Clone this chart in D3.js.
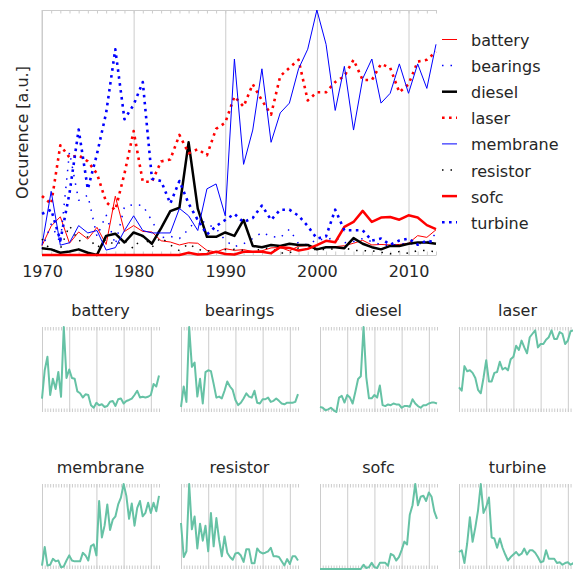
<!DOCTYPE html>
<html>
<head>
<meta charset="utf-8">
<script src="https://cdn.jsdelivr.net/npm/d3@7"></script>
<style>
  body { margin: 0; background: #fff; }
  svg text { font-family: "DejaVu Sans", sans-serif; fill: #262626; }
</style>
</head>
<body>
<svg id="chart" width="573" height="572"></svg>
<script>

// years on the x axis
var years = [1970, 1971, 1972, 1973, 1974, 1975, 1976, 1977, 1978, 1979,
  1980, 1981, 1982, 1983, 1984, 1985, 1986, 1987, 1988, 1989,
  1990, 1991, 1992, 1993, 1994, 1995, 1996, 1997, 1998, 1999,
  2000, 2001, 2002, 2003, 2004, 2005, 2006, 2007, 2008, 2009,
  2010, 2011, 2012, 2013];

var names = ["battery", "bearings", "diesel", "laser", "membrane", "resistor", "sofc", "turbine"];

// occurence per year
var battery = [0.038, 0.118, 0.156, 0.048, 0.094, 0.065, 0.113, 0.043, 0.240, 0.096,
  0.120, 0.096, 0.094, 0.058, 0.053, 0.041, 0.050, 0.048, 0.019, 0.012,
  0.026, 0.019, 0.022, 0.014, 0.017, 0.029, 0.031, 0.017, 0.036, 0.038,
  0.024, 0.031, 0.034, 0.038, 0.048, 0.060, 0.041, 0.043, 0.041, 0.043,
  0.048, 0.079, 0.072, 0.103];
var bearings = [0.025, 0.126, 0.050, 0.420, 0.223, 0.244, 0.076, 0.164, 0.042, 0.197,
  0.206, 0.202, 0.139, 0.071, 0.076, 0.067, 0.105, 0.151, 0.126, 0.109,
  0.059, 0.034, 0.046, 0.067, 0.092, 0.076, 0.071, 0.105, 0.046, 0.042,
  0.063, 0.063, 0.071, 0.050, 0.055, 0.067, 0.055, 0.042, 0.038, 0.046,
  0.046, 0.046, 0.050, 0.088];
var diesel = [0.028, 0.023, 0.009, 0.014, 0.023, 0.009, 0.000, 0.078, 0.087, 0.051,
  0.092, 0.078, 0.046, 0.110, 0.179, 0.193, 0.460, 0.189, 0.074, 0.074,
  0.092, 0.078, 0.143, 0.037, 0.032, 0.041, 0.037, 0.046, 0.041, 0.041,
  0.023, 0.032, 0.032, 0.028, 0.069, 0.046, 0.032, 0.023, 0.037, 0.037,
  0.046, 0.051, 0.051, 0.046];
var laser = [0.241, 0.208, 0.448, 0.398, 0.407, 0.382, 0.332, 0.216, 0.183, 0.332,
  0.506, 0.299, 0.299, 0.382, 0.390, 0.490, 0.415, 0.432, 0.407, 0.515,
  0.540, 0.647, 0.606, 0.697, 0.631, 0.573, 0.730, 0.764, 0.797, 0.631,
  0.664, 0.664, 0.706, 0.730, 0.797, 0.714, 0.714, 0.780, 0.764, 0.664,
  0.697, 0.789, 0.797, 0.830];
var membrane = [0.04, 0.26, 0.04, 0.05, 0.12, 0.09, 0.10, 0.02, 0.03, 0.10,
  0.16, 0.10, 0.09, 0.09, 0.09, 0.19, 0.16, 0.10, 0.27, 0.29,
  0.16, 0.80, 0.37, 0.51, 0.76, 0.46, 0.58, 0.62, 0.76, 0.84,
  1.00, 0.86, 0.59, 0.77, 0.51, 0.72, 0.80, 0.62, 0.66, 0.78,
  0.66, 0.78, 0.68, 0.86];
var resistor = [0.065, 0.017, 0.025, 0.120, 0.056, 0.074, 0.029, 0.064, 0.040, 0.061,
  0.025, 0.079, 0.032, 0.072, 0.041, 0.018, 0.046, 0.023, 0.017, 0.013,
  0.022, 0.023, 0.019, 0.010, 0.028, 0.028, 0.008, 0.008, 0.029, 0.024,
  0.022, 0.023, 0.025, 0.030, 0.018, 0.018, 0.017, 0.011, 0.005, 0.014,
  0.007, 0.018, 0.018, 0.012];
var sofc = [0, 0, 0, 0, 0, 0, 0, 0, 0, 0,
  0, 0, 0, 0, 0, 0, 0.009, 0.002, 0.004, 0.013,
  0.004, 0.002, 0.013, 0.013, 0.013, 0.007, 0.032, 0.029, 0.018, 0.025,
  0.040, 0.058, 0.052, 0.115, 0.135, 0.180, 0.135, 0.153, 0.155, 0.144,
  0.162, 0.153, 0.122, 0.106];
var turbine = [0.168, 0.185, 0.059, 0.252, 0.512, 0.269, 0.412, 0.580, 0.840, 0.554,
  0.613, 0.706, 0.311, 0.302, 0.210, 0.302, 0.210, 0.143, 0.084, 0.118,
  0.143, 0.168, 0.134, 0.151, 0.202, 0.143, 0.185, 0.185, 0.160, 0.118,
  0.067, 0.076, 0.185, 0.101, 0.101, 0.101, 0.059, 0.067, 0.042, 0.059,
  0.067, 0.042, 0.059, 0.050];

var values = {battery: battery, bearings: bearings, diesel: diesel, laser: laser,
  membrane: membrane, resistor: resistor, sofc: sofc, turbine: turbine};

// line look per series (red / blue / black, thin / thick, solid / dotted)
var styles = {
  battery:  {color: "#ff0000", width: 1,   dash: null},
  bearings: {color: "#0000ff", width: 1.5, dash: "1.5,7"},
  diesel:   {color: "#000000", width: 2.5, dash: null},
  laser:    {color: "#ff0000", width: 2.6, dash: "2.6,4.4"},
  membrane: {color: "#0000ff", width: 1,   dash: null},
  resistor: {color: "#000000", width: 1.5, dash: "1.5,7"},
  sofc:     {color: "#ff0000", width: 2.5, dash: null},
  turbine:  {color: "#0000ff", width: 2.6, dash: "2.6,4.4"}
};

var gridColor = "#cccccc";
var svg = d3.select("#chart");

//----- big chart
var m = {left: 42, right: 436, top: 10, bottom: 255};
var x = d3.scaleLinear().domain([1970, 2013]).range([m.left, m.right]);
var y = d3.scaleLinear().domain([0, 1]).range([m.bottom, m.top]);

// grid + year labels
var gx = svg.append("g")
  .attr("transform", "translate(0," + m.bottom + ")")
  .call(d3.axisBottom(x)
    .tickValues([1970, 1980, 1990, 2000, 2010])
    .tickSize(-(m.bottom - m.top))
    .tickPadding(11)
    .tickFormat(d3.format("d")));
gx.select(".domain").remove();
gx.selectAll("line").attr("stroke", gridColor);
gx.selectAll("text").style("font-size", "16px");

// minor year ticks along top and bottom
var topTicks = svg.append("g")
  .attr("transform", "translate(0," + m.top + ")")
  .call(d3.axisTop(x).tickValues(years).tickSize(-3.5).tickSizeOuter(0).tickFormat(""));
var botTicks = svg.append("g")
  .attr("transform", "translate(0," + m.bottom + ")")
  .call(d3.axisBottom(x).tickValues(years).tickSize(-3.5).tickSizeOuter(0).tickFormat(""));
[topTicks, botTicks].forEach(function(g){
  g.selectAll("line, path").attr("stroke", gridColor);
});

// left spine
svg.append("line")
  .attr("x1", m.left).attr("x2", m.left)
  .attr("y1", m.top).attr("y2", m.bottom)
  .attr("stroke", gridColor);

svg.append("text")
  .attr("transform", "translate(22," + ((m.top + m.bottom) / 2) + ") rotate(-90)")
  .attr("text-anchor", "middle")
  .attr("dy", "0.35em")
  .style("font-size", "16px")
  .text("Occurence [a.u.]");

var line = d3.line()
  .x(function(d, i){ return x(years[i]); })
  .y(function(d){ return y(d); });

svg.append("g")
  .selectAll("path")
  .data(names)
  .enter()
  .append("path")
  .attr("d", function(n){ return line(values[n]); })
  .attr("fill", "none")
  .attr("stroke", function(n){ return styles[n].color; })
  .attr("stroke-width", function(n){ return styles[n].width; })
  .attr("stroke-dasharray", function(n){ return styles[n].dash; })
  .attr("stroke-linejoin", "round");

// legend
var legend = svg.append("g")
  .selectAll("g")
  .data(names)
  .enter()
  .append("g")
  .attr("transform", function(n, i){ return "translate(0," + (39.5 + i * 26.1) + ")"; });

legend.append("line")
  .attr("x1", 442).attr("x2", 457)
  .attr("stroke", function(n){ return styles[n].color; })
  .attr("stroke-width", function(n){ return styles[n].width; })
  .attr("stroke-dasharray", function(n){ return styles[n].dash; });

legend.append("text")
  .attr("x", 471)
  .attr("y", 6.5)
  .style("font-size", "16px")
  .text(function(n){ return n; });

//----- small multiples, each scaled to its own max
var cols = [42, 181, 320, 459];
var rowTops = [327, 484];
var pw = 117, ph = 85;

names.forEach(function(n, i){
  var left = cols[i % 4], top = rowTops[Math.floor(i / 4)];
  var g = svg.append("g").attr("transform", "translate(" + left + "," + top + ")");

  var sx = d3.scaleLinear().domain([1970, 2013]).range([0, pw]);
  var sy = d3.scaleLinear().domain([0, d3.max(values[n])]).range([ph, 0]);

  var grid = g.append("g")
    .attr("transform", "translate(0," + ph + ")")
    .call(d3.axisBottom(sx)
      .tickValues([1970, 1980, 1990, 2000, 2010])
      .tickSize(-ph)
      .tickFormat(""));
  grid.select(".domain").remove();
  grid.selectAll("line").attr("stroke", gridColor);

  var t1 = g.append("g")
    .call(d3.axisTop(sx).tickValues(years).tickSize(-3.5).tickSizeOuter(0).tickFormat(""));
  var t2 = g.append("g")
    .attr("transform", "translate(0," + ph + ")")
    .call(d3.axisBottom(sx).tickValues(years).tickSize(-3.5).tickSizeOuter(0).tickFormat(""));
  [t1, t2].forEach(function(t){
    t.select(".domain").remove();
    t.selectAll("line").attr("stroke", gridColor);
  });

  g.append("path")
    .attr("d", d3.line()
      .x(function(d, j){ return sx(years[j]); })
      .y(function(d){ return sy(d); })(values[n]))
    .attr("fill", "none")
    .attr("stroke", "#66c2a5")
    .attr("stroke-width", 2)
    .attr("stroke-linejoin", "round");

  g.append("text")
    .attr("x", pw / 2)
    .attr("y", -11)
    .attr("text-anchor", "middle")
    .style("font-size", "16px")
    .text(n);
});

</script>
</body>
</html>
